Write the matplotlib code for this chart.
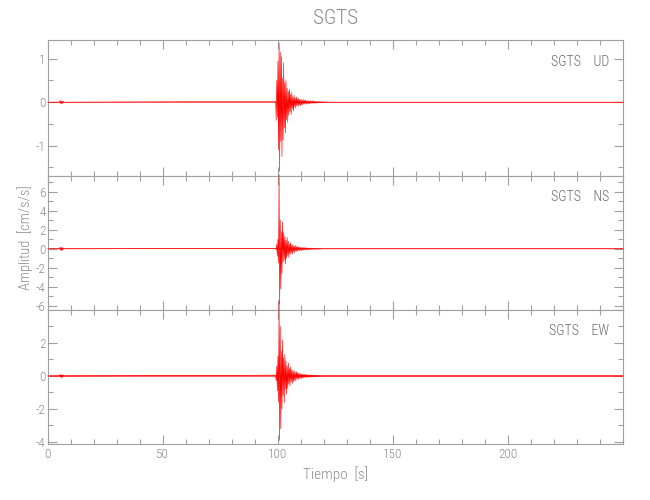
import numpy as np
import matplotlib
matplotlib.use("Agg")
import matplotlib.pyplot as plt
from matplotlib.ticker import MultipleLocator, FixedLocator
from matplotlib import font_manager as fm

# ---------------- data ----------------
station = "SGTS"
components = ["UD", "NS", "EW"]
dt = 0.25            # sampling of digitised burst (s)
burst_start = 99.0   # s
blip_start = 5.0     # s
t_end = 250.0

ud_burst = [0.02, -0.42, 0.5, -0.35, 0.95, -1.1, 1.36, -1.59, 1.15, -0.9,
            1.05, -1.25, 0.55, -0.87, 0.9, -0.6, 0.45, -0.7, 0.5, -0.4,
            0.32, -0.46, 0.25, -0.3, 0.3, -0.22, 0.18, -0.28, 0.22, -0.15,
            0.12, -0.2, 0.16, -0.1, 0.1, -0.14, 0.12, -0.08, 0.07, -0.1,
            0.09, -0.07, 0.06, -0.08, 0.07, -0.05, 0.05, -0.06, 0.06, -0.04,
            0.04, -0.05, 0.05, -0.035, 0.03, -0.045, 0.04, -0.03, 0.03, -0.035,
            0.035, -0.025, 0.025, -0.03, 0.03, -0.02, 0.02, -0.03, 0.025, -0.02,
            0.02, -0.02, 0.015, -0.02, 0.02, -0.015, 0.015, -0.015, 0.015, -0.015,
            0.01, -0.015, 0.015, -0.01, 0.01, -0.01, 0.01, -0.01, 0.01, -0.01, 0.0]
ns_burst = [0.05, -0.1, 0.5, -0.8, 1.0, -1.5, 7.8, -5.8, 3.0, -4.2,
            1.8, -2.6, 2.8, -1.4, 1.7, -1.2, 1.3, -1.6, 0.9, -1.0,
            1.2, -0.7, 0.8, -0.9, 0.5, -0.6, 0.65, -0.45, 0.4, -0.55,
            0.45, -0.3, 0.3, -0.38, 0.35, -0.22, 0.25, -0.3, 0.22, -0.18,
            0.18, -0.22, 0.2, -0.14, 0.14, -0.18, 0.16, -0.12, 0.12, -0.14,
            0.13, -0.1, 0.1, -0.12, 0.1, -0.08, 0.09, -0.1, 0.08, -0.07,
            0.07, -0.08, 0.08, -0.06, 0.06, -0.07, 0.06, -0.05, 0.05, -0.06,
            0.05, -0.05, 0.05, -0.04, 0.04, -0.05, 0.04, -0.04, 0.04, -0.04, 0.0]
ew_burst = [0.05, -0.3, 0.6, -0.9, 1.2, -1.6, 4.6, -3.9, 3.0, -3.2,
            1.5, -2.0, 2.2, -1.2, 1.1, -1.6, 1.3, -0.8, 0.9, -1.1,
            0.6, -0.75, 0.8, -0.5, 0.45, -0.6, 0.55, -0.35, 0.4, -0.45,
            0.3, -0.35, 0.35, -0.25, 0.22, -0.3, 0.25, -0.18, 0.2, -0.22,
            0.15, -0.18, 0.17, -0.12, 0.12, -0.15, 0.13, -0.1, 0.1, -0.12,
            0.1, -0.08, 0.08, -0.1, 0.09, -0.07, 0.07, -0.08, 0.07, -0.06,
            0.06, -0.07, 0.06, -0.05, 0.05, -0.06, 0.05, -0.04, 0.04, -0.05,
            0.04, -0.04, 0.04, -0.035, 0.035, -0.04, 0.03, -0.03, 0.03, -0.03, 0.0]
ud_blip = [0.0, 0.03, -0.03, 0.035, -0.035, 0.03, -0.03, 0.02, 0.0]
ns_blip = [0.0, 0.15, -0.15, 0.18, -0.18, 0.15, -0.15, 0.1, 0.0]
ew_blip = [0.0, 0.08, -0.08, 0.1, -0.1, 0.08, -0.08, 0.06, 0.0]
noise_level = [0.012, 0.06, 0.035]   # half-width of background noise band

ylims = [(-1.69, 1.43), (-6.42, 7.68), (-4.14, 4.0)]
yticks = [[-1, 0, 1], [-6, -4, -2, 0, 2, 4, 6], [-4, -2, 0, 2]]
yminor = [0.5, 1, 1]
xticks = [0, 50, 100, 150, 200]

# ---------------- fonts ----------------
names = {f.name for f in fm.fontManager.ttflist}
fam = "DejaVu Sans"
for cand in ["Roboto Condensed", "Liberation Sans Narrow"]:
    if cand in names:
        fam = cand
        break
plt.rcParams["font.family"] = [fam, "DejaVu Sans"]
plt.rcParams["font.weight"] = "light"
plt.rcParams["axes.labelweight"] = "light"
plt.rcParams["axes.unicode_minus"] = False

gray = "#8c8c8c"
axc = "#a0a0a0"

fig = plt.figure(figsize=(6.5, 5.0), dpi=100)
bottoms = [0.6486, 0.38, 0.1114]
tops = [0.92, 0.6486, 0.38]
left, right = 47.7 / 650, 623.3 / 650

bursts = [ud_burst, ns_burst, ew_burst]
blips = [ud_blip, ns_blip, ew_blip]
axes = []
for i in range(3):
    ax = fig.add_axes([left, bottoms[i], right - left, tops[i] - bottoms[i]])
    axes.append(ax)
    b = np.array(bursts[i])
    tb = burst_start + dt * np.arange(len(b))
    bl = np.array(blips[i])
    tbl = blip_start + dt * np.arange(len(bl))
    t = np.concatenate([[0.0], tbl, tb, [t_end]])
    y = np.concatenate([[0.0], bl, b, [0.0]])
    ax.fill_between([0.0, t_end], [-noise_level[i]] * 2, [noise_level[i]] * 2,
                    color="#ff3030", lw=0, alpha=0.75, zorder=2)
    ax.plot(t, y, color="#ff0000", lw=0.45, clip_on=False, zorder=3)
    ax.set_xlim(0, t_end)
    ax.set_ylim(*ylims[i])
    ax.xaxis.set_major_locator(FixedLocator(xticks))
    ax.xaxis.set_minor_locator(MultipleLocator(10))
    ax.yaxis.set_major_locator(FixedLocator(yticks[i]))
    ax.yaxis.set_minor_locator(MultipleLocator(yminor[i]))
    ax.tick_params(which="both", direction="in", top=True, right=True,
                   color=axc, labelcolor=gray, labelsize=9.5, width=0.8)
    ax.tick_params(which="major", length=6.8)
    ax.tick_params(which="minor", length=3.6)
    ax.tick_params(axis="y", which="major", pad=1.5)
    ax.tick_params(axis="x", which="major", pad=2.5)
    for s in ax.spines.values():
        s.set_color(axc)
        s.set_linewidth(0.8)
    if i < 2:
        ax.tick_params(labelbottom=False)
    ax.text(0.976, 0.84, f"{station}    {components[i]}", transform=ax.transAxes,
            ha="right", va="center", color="#6a6a6a", fontsize=10)

axes[2].set_xlabel("Tiempo  [s]", color=gray, fontsize=11, fontweight="light",
                   labelpad=4)
fig.text(25 / 650, 0.525, "Amplitud  [cm/s/s]", rotation=90, ha="center", va="center",
         color=gray, fontsize=10.5, fontweight="light")
fig.text((left + right) / 2, 0.962, station, ha="center", va="center",
         color=gray, fontsize=15, fontweight="light")

fig.savefig("out.png", dpi=100)
